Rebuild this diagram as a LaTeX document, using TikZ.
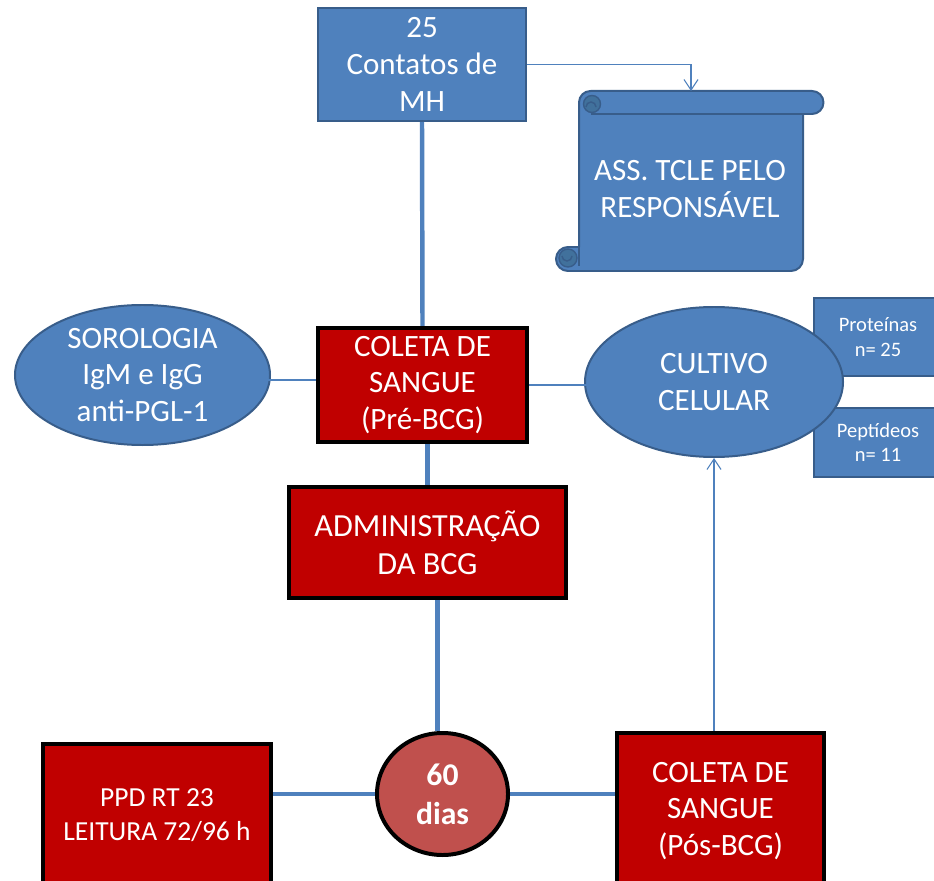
\documentclass[tikz,border=0pt]{standalone}
\usepackage{fontspec}
\setmainfont{Carlito}
\usetikzlibrary{shapes.geometric}
\usetikzlibrary{arrows.meta}
\usetikzlibrary{backgrounds}

\definecolor{boxblue}{HTML}{4F81BD}
\definecolor{edgeblue}{HTML}{385D8A}
\definecolor{curlblue}{HTML}{41719C}
\definecolor{boxred}{HTML}{C00000}
\definecolor{dayred}{HTML}{C0504D}

\tikzset{
  bluebox/.style={draw=edgeblue, fill=boxblue, line width=1.7pt, text=white, align=center, inner sep=0pt},
  blueoval/.style={ellipse, draw=edgeblue, fill=boxblue, line width=1.7pt, text=white, align=center, inner sep=-3pt},
  redbox/.style={draw=black, fill=boxred, line width=3pt, text=white, align=center, inner sep=0pt},
  bigtext/.style={font=\fontsize{26.5}{31.5}\selectfont},
  smalltext/.style={font=\fontsize{17.5}{21}\selectfont},
  link/.style={draw=boxblue, line width=3.8pt},
  thinlink/.style={draw=boxblue, line width=0.9pt},
  thinarrow/.style={thinlink, -{Straight Barb[length=9pt,width=12pt]}}
}

\begin{document}
\begin{tikzpicture}[x=0.03cm, y=-0.03cm]
\useasboundingbox (0,0) rectangle (934,881);
\clip (0,0) rectangle (934,881);

% scroll
\filldraw[draw=edgeblue, fill=boxblue, line width=1.7pt, line join=round]
  (590.5,91) -- (812,91) arc[start angle=-90, end angle=90, radius=11.5]
  -- (803,114) -- (803,259) arc[start angle=0, end angle=90, radius=12]
  -- (568,271) arc[start angle=90, end angle=270, radius=12]
  -- (579,247) -- (579,102.5) arc[start angle=180, end angle=270, radius=11.5] -- cycle;
\draw[edgeblue, line width=1.7pt] (590.5,114) -- (803,114);
\filldraw[draw=edgeblue, fill=curlblue, line width=1.2pt] (592,104) circle[radius=8.5];
\draw[edgeblue, line width=1.2pt] (586,107) arc[start angle=180, end angle=360, radius=5];
\filldraw[draw=edgeblue, fill=curlblue, line width=1.2pt] (568,258) circle[radius=9];
\draw[edgeblue, line width=1.2pt] (562,256) arc[start angle=180, end angle=0, radius=5];
\draw[edgeblue, line width=1.7pt] (579,247) -- (579,266);
\coordinate (tcletop) at (691,91);
\node[bigtext, text=white, align=center] (tcle) at (690,189) {ASS. TCLE PELO\\RESPONSÁVEL};

% blue nodes
\node[bluebox, bigtext, minimum width=6.24cm, minimum height=3.39cm] (contatos) at (422,64.5) {25\\Contatos de\\MH};
\node[blueoval, bigtext, minimum width=7.65cm, minimum height=4.2cm] (soro) at (142.5,375) {SOROLOGIA\\IgM e IgG\\anti-PGL-1};
\node[bluebox, smalltext, minimum width=3.84cm, minimum height=2.34cm] (prot) at (878,337) {Proteínas\\n= 25};
\node[bluebox, smalltext, minimum width=3.84cm, minimum height=2.07cm] (pept) at (878,442.5) {Peptídeos\\n= 11};
\node[blueoval, bigtext, minimum width=7.74cm, minimum height=4.5cm] (cultivo) at (714,382) {CULTIVO\\CELULAR};

% red nodes
\node[redbox, bigtext, line width=3.4pt, minimum width=6.27cm, minimum height=3.42cm] (pre) at (422.5,385) {COLETA DE\\SANGUE\\(Pré-BCG)};
\node[redbox, font=\fontsize{27.5}{32.5}\selectfont, minimum width=8.31cm, minimum height=3.33cm] (admin) at (427.5,542.5) {ADMINISTRAÇÃO\\DA BCG};
\node[ellipse, draw=black, fill=dayred, line width=3.4pt, text=white, align=center, inner sep=-4pt,
  font=\fontsize{27}{33}\selectfont\bfseries, minimum width=3.93cm, minimum height=3.66cm] (dias) at (442.5,794) {60\\dias};
\node[redbox, font=\fontsize{23.5}{29}\selectfont, minimum width=6.84cm, minimum height=4.26cm] (ppd) at (157,815) {PPD RT 23\\LEITURA 72/96 h};
\node[redbox, bigtext, line width=3.4pt, minimum width=6.21cm, minimum height=4.68cm] (pos) at (720.5,811) {COLETA DE\\SANGUE\\(Pós-BCG)};

\begin{scope}[on background layer]
\draw[link] (contatos.south) -- (pre.north);
\draw[link] (pre.south -| admin.north) -- (admin.north);
\draw[link] ([xshift=0.3cm]admin.south) -- ([xshift=0.3cm]admin.south |- dias.north);
\draw[link] (ppd.east |- dias.west) -- (dias.west);
\draw[link] (dias.east) -- (dias.east -| pos.west);
\end{scope}

\draw[thinlink] ([xshift=-1.5cm,yshift=-0.15cm]soro.east) -- ([yshift=0.15cm]pre.west);
\draw[thinlink] (pre.east) -- ([xshift=5.94cm,yshift=-0.09cm]cultivo.west);
\draw[thinarrow] (contatos.east) -| (tcletop);
\draw[thinarrow] (cultivo.south |- pos.north) -- (cultivo.south);
\end{tikzpicture}
\end{document}
